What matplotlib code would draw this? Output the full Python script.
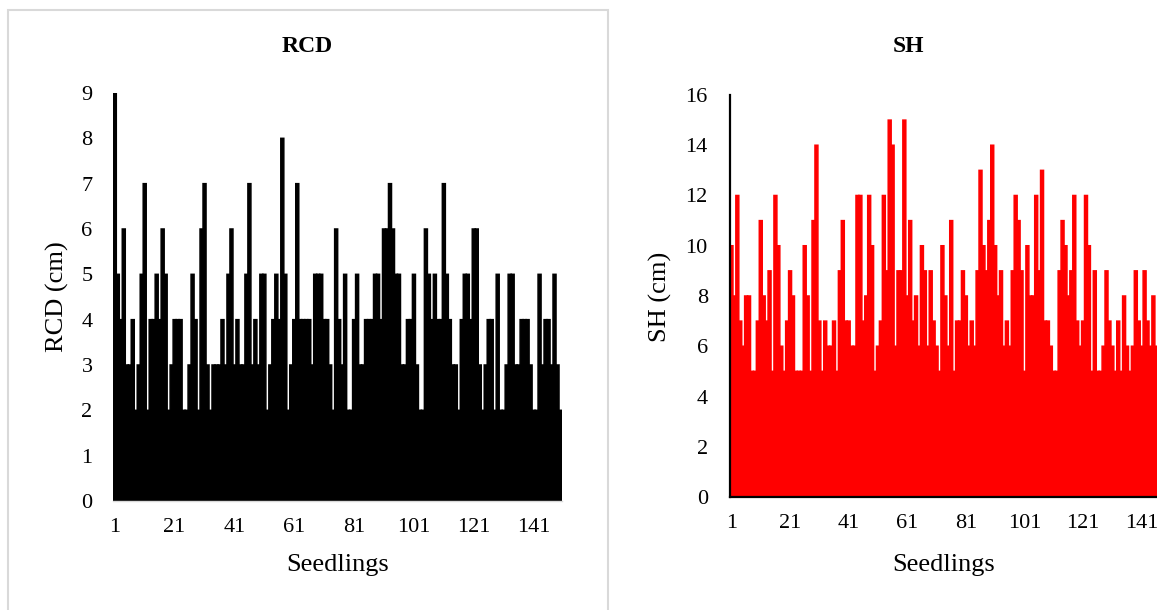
import matplotlib
matplotlib.use("Agg")
from matplotlib import pyplot as plt
from matplotlib.patches import Rectangle

plt.rcParams['font.family'] = ['Liberation Serif', 'DejaVu Serif']

seedlings = list(range(1, 151))

rcd = [9, 5, 4, 6, 3, 3, 4, 2, 3, 5, 7, 2, 4, 4, 5, 4, 6, 5, 2, 3,
       4, 4, 4, 2, 2, 3, 5, 4, 2, 6, 7, 3, 2, 3, 3, 3, 4, 3, 5, 6,
       3, 4, 3, 3, 5, 7, 3, 4, 3, 5, 5, 2, 3, 4, 5, 4, 8, 5, 2, 3,
       4, 7, 4, 4, 4, 4, 3, 5, 5, 5, 4, 4, 3, 2, 6, 4, 3, 5, 2, 2,
       4, 5, 3, 3, 4, 4, 4, 5, 5, 4, 6, 6, 7, 6, 5, 5, 3, 3, 4, 4,
       5, 3, 2, 2, 6, 5, 4, 5, 4, 4, 7, 5, 4, 3, 3, 2, 4, 5, 5, 4,
       6, 6, 3, 2, 3, 4, 4, 2, 5, 2, 2, 3, 5, 5, 3, 3, 4, 4, 4, 3,
       2, 2, 5, 3, 4, 4, 3, 5, 3, 2]

sh = [10, 8, 12, 7, 6, 8, 8, 5, 5, 7, 11, 8, 7, 9, 5, 12, 10, 6, 5, 7,
      9, 8, 5, 5, 5, 10, 8, 5, 11, 14, 7, 5, 7, 6, 6, 7, 5, 9, 11, 7,
      7, 6, 6, 12, 12, 7, 8, 12, 10, 5, 6, 7, 12, 9, 15, 14, 6, 9, 9, 15,
      8, 11, 7, 8, 6, 10, 9, 6, 9, 7, 6, 5, 10, 8, 6, 11, 5, 7, 7, 9,
      8, 6, 7, 6, 9, 13, 10, 9, 11, 14, 10, 8, 9, 6, 7, 6, 9, 12, 11, 9,
      5, 10, 8, 8, 12, 9, 13, 7, 7, 6, 5, 5, 9, 11, 10, 8, 9, 12, 7, 6,
      7, 12, 10, 5, 9, 5, 5, 6, 9, 7, 6, 5, 7, 5, 8, 6, 5, 6, 9, 7,
      6, 9, 7, 6, 8, 6, 8, 7, 5, 6]

xticks = [1, 21, 41, 61, 81, 101, 121, 141]

W, H = 1157, 610
fig = plt.figure(figsize=(W / 100, H / 100), dpi=100)


def px(x0, y_bottom, x1, y_top):
	# pixel box -> figure fraction rect
	return [x0 / W, (H - y_bottom) / H, (x1 - x0) / W, (y_bottom - y_top) / H]


tick_size = 16
label_size = 19

# ---- RCD panel
ax1 = fig.add_axes(px(113.3, 501, 562, 93))
ax1.bar(seedlings, rcd, width=1.0, color='black', edgecolor='black', linewidth=1.1, snap=False)
ax1.set_xlim(0.5, 150.5)
ax1.set_ylim(0, 9)
ax1.set_yticks(range(0, 10))
ax1.set_xticks(xticks)
for s in ['left', 'top', 'right']:
	ax1.spines[s].set_visible(False)
ax1.spines['bottom'].set_color('#d9d9d9')
ax1.spines['bottom'].set_linewidth(1.0)
ax1.tick_params(length=0, labelsize=tick_size)
ax1.tick_params(axis='y', pad=15)
ax1.tick_params(axis='x', pad=12)

# ---- SH panel (cut off on the right like the original)
ax2 = fig.add_axes(px(730, 497, 1169.5, 95))
ax2.bar(seedlings, sh, width=1.0, color='red', edgecolor='red', linewidth=1.1, snap=False)
ax2.set_xlim(0.5, 150.5)
ax2.set_ylim(0, 16)
ax2.set_yticks(range(0, 17, 2))
ax2.set_xticks(xticks)
for s in ['top', 'right']:
	ax2.spines[s].set_visible(False)
for s in ['left', 'bottom']:
	ax2.spines[s].set_color('black')
	ax2.spines[s].set_linewidth(1.6)
ax2.tick_params(length=0, labelsize=tick_size)
ax2.tick_params(axis='y', pad=16)
ax2.tick_params(axis='x', pad=12)

# titles and axis labels
fig.text(307 / W, 1 - 47 / H, "RCD", ha='center', va='center', fontsize=17, fontweight='bold')
fig.text(908 / W, 1 - 47 / H, "SH", ha='center', va='center', fontsize=17, fontweight='bold')
fig.text(337.5 / W, 1 - 565 / H, "Seedlings", ha='center', va='center', fontsize=label_size)
fig.text(944 / W, 1 - 565 / H, "Seedlings", ha='center', va='center', fontsize=label_size)
fig.text(57 / W, 1 - 297 / H, "RCD (cm)", ha='center', va='center', rotation=90, fontsize=label_size)
fig.text(660 / W, 1 - 297 / H, "SH (cm)", ha='center', va='center', rotation=90, fontsize=label_size)

# light grey frame round the left chart
fig.patches.append(Rectangle((8 / W, -0.01), 600 / W, (H - 10) / H + 0.01, fill=False,
			edgecolor='#d9d9d9', linewidth=1.5, transform=fig.transFigure, figure=fig))

plt.savefig("out.png", dpi=100)
plt.close()
